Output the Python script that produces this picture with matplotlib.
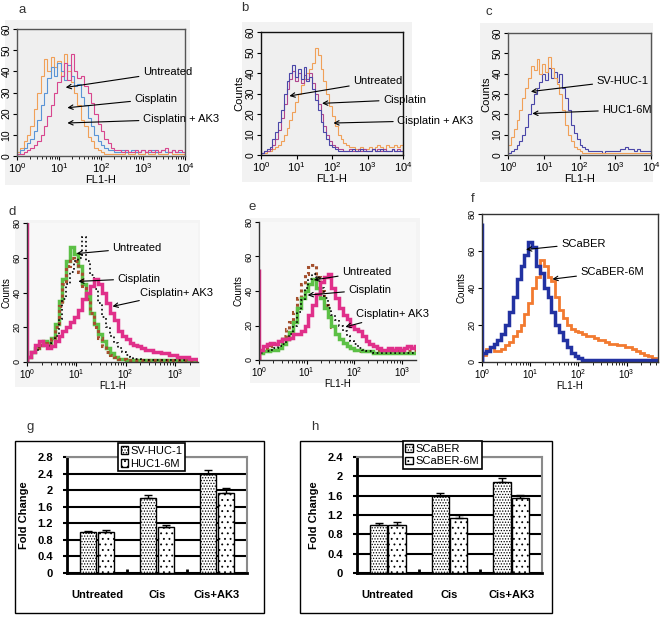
import numpy as np
import matplotlib
matplotlib.use("Agg")
import matplotlib.pyplot as plt
from matplotlib.patches import Rectangle
from matplotlib.ticker import LogFormatterSciNotation

plt.rcParams['font.family'] = ['Liberation Sans', 'DejaVu Sans']
plt.rcParams['mathtext.default'] = 'regular'
plt.rcParams['hatch.linewidth'] = 0.6

W, H = 662, 618

# --- histogram data (counts per 0.08-decade bin, starting at 10^0) ---
bin_step = 0.08

a_orange = [2, 4, 7, 10, 14, 22, 30, 38, 46, 40,
            47, 42, 45, 38, 48, 40, 35, 30, 24, 17,
            14, 9, 7, 4, 3, 2, 1, 1, 1, 1,
            1, 1, 2, 1, 1, 2, 1, 1, 2, 1,
            1, 2, 1, 1, 1, 2, 1, 1, 1, 1]
a_blue = [1, 3, 4, 6, 8, 12, 17, 24, 30, 37,
          42, 38, 44, 40, 36, 43, 38, 33, 34, 28,
          24, 18, 14, 10, 7, 5, 4, 3, 3, 2,
          2, 3, 2, 2, 3, 2, 2, 3, 2, 2,
          3, 2, 2, 3, 2, 2, 3, 2, 2, 2]
a_magenta = [1, 1, 2, 3, 4, 5, 7, 10, 14, 19,
             24, 30, 35, 38, 44, 36, 48, 40, 37, 38,
             33, 30, 25, 20, 15, 12, 8, 6, 4, 3,
             3, 2, 3, 2, 2, 3, 2, 3, 2, 3,
             2, 3, 2, 3, 4, 2, 3, 2, 3, 2]

b_blue = [1, 2, 3, 4, 8, 11, 16, 22, 30, 36,
          40, 44, 38, 42, 37, 43, 36, 38, 32, 27,
          22, 16, 11, 8, 5, 4, 3, 2, 2, 2,
          2, 2, 3, 2, 2, 3, 2, 2, 2, 3,
          2, 2, 3, 2, 2, 2, 3, 2, 2, 2]
b_magenta = [1, 2, 2, 3, 5, 8, 12, 18, 25, 32,
             37, 41, 36, 40, 35, 39, 37, 40, 35, 30,
             25, 20, 14, 10, 7, 5, 4, 3, 3, 2,
             2, 3, 2, 2, 3, 2, 3, 2, 2, 3,
             2, 3, 2, 3, 2, 2, 3, 2, 3, 2]
b_orange = [1, 1, 2, 2, 3, 4, 5, 7, 10, 13,
            17, 21, 26, 30, 34, 37, 40, 42, 45, 52,
            49, 42, 36, 30, 24, 19, 14, 10, 8, 6,
            5, 4, 4, 3, 3, 4, 3, 3, 4, 3,
            4, 5, 4, 3, 5, 4, 4, 5, 4, 5]

c_orange = [5, 9, 13, 17, 22, 28, 33, 38, 44, 42,
            47, 40, 45, 41, 48, 43, 38, 35, 30, 22,
            15, 10, 7, 4, 3, 2, 1, 1, 1, 1,
            1, 1, 1, 1, 1, 1, 1, 1, 1, 1,
            1, 1, 1, 1, 1, 1, 1, 1, 1, 1]
c_blue = [1, 2, 3, 5, 7, 10, 14, 20, 25, 30,
          33, 36, 40, 37, 43, 38, 41, 36, 40, 33,
          28, 22, 15, 11, 8, 5, 4, 3, 2, 2,
          2, 2, 2, 1, 2, 2, 2, 2, 2, 3,
          3, 4, 3, 3, 2, 3, 2, 2, 2, 2]

d_green = [3, 6, 8, 10, 12, 11, 14, 22, 35, 48,
           58, 66, 62, 55, 45, 38, 28, 22, 16, 12,
           8, 5, 3, 2, 2, 1, 1, 1, 1, 1,
           1, 1, 1, 1, 1, 1, 1, 1, 1, 1,
           1, 1, 1, 1, 1]
d_brown = [3, 6, 8, 10, 11, 10, 13, 20, 32, 45,
           55, 60, 58, 52, 44, 36, 28, 20, 14, 9,
           6, 4, 3, 2, 2, 1, 1, 1, 1, 1,
           1, 1, 1, 1, 1, 1, 1, 1, 1, 1,
           1, 1, 1, 1, 1]
d_dotted = [3, 5, 7, 9, 10, 9, 11, 15, 25, 36,
            45, 52, 58, 60, 72, 58, 50, 42, 34, 26,
            20, 15, 11, 8, 6, 4, 3, 2, 2, 1,
            1, 1, 1, 1, 1, 1, 1, 1, 1, 1,
            1, 1, 1, 1, 1]
d_magenta = [3, 6, 10, 12, 10, 8, 9, 12, 15, 18,
             20, 23, 26, 30, 36, 40, 44, 48, 45, 40,
             34, 28, 24, 18, 15, 13, 11, 10, 9, 8,
             7, 7, 6, 6, 5, 5, 4, 4, 3, 3,
             3, 2, 2, 2, 2]
d_edge = 85

e_green = [4, 5, 5, 6, 6, 7, 9, 12, 16, 22,
           30, 36, 40, 44, 47, 42, 36, 30, 25, 20,
           15, 12, 10, 8, 7, 6, 6, 5, 5, 5,
           4, 4, 4, 4, 4, 4, 4, 4, 4, 4,
           4, 4, 4, 4, 4]
e_brown = [5, 6, 7, 8, 9, 11, 14, 18, 22, 28,
           36, 44, 50, 54, 55, 48, 40, 32, 25, 19,
           15, 12, 10, 8, 7, 6, 5, 5, 5, 5,
           5, 5, 5, 5, 5, 5, 5, 5, 5, 5,
           5, 5, 5, 5, 5]
e_dotted = [4, 5, 5, 6, 7, 8, 9, 12, 15, 20,
            28, 35, 42, 47, 50, 48, 42, 36, 30, 26,
            23, 20, 17, 14, 11, 9, 7, 6, 5, 5,
            4, 4, 4, 4, 4, 4, 4, 4, 4, 4,
            4, 4, 4, 4, 4]
e_magenta = [6, 8, 9, 10, 9, 11, 12, 12, 13, 15,
             15, 17, 20, 26, 32, 38, 45, 48, 50, 42,
             36, 30, 26, 24, 20, 18, 17, 14, 11, 9,
             8, 7, 6, 6, 7, 6, 7, 6, 7, 8,
             7, 8, 7, 8, 7]
e_edge = 53

f_blue = [5, 6, 8, 10, 12, 15, 20, 27, 35, 45,
          52, 58, 65, 62, 52, 48, 40, 35, 27, 20,
          16, 12, 8, 5, 3, 2, 1, 1, 1, 1,
          1, 1, 1, 1, 1, 1, 1, 1, 1, 1,
          1, 1, 1, 1, 1]
f_orange = [4, 7, 8, 6, 6, 7, 9, 11, 14, 17,
            20, 26, 32, 40, 46, 55, 52, 46, 44, 35,
            28, 24, 20, 18, 17, 16, 15, 14, 14, 13,
            12, 12, 11, 10, 10, 9, 9, 8, 8, 7,
            6, 5, 4, 3, 2]
f_edge = 75

# --- bar chart data ---
groups = ['Untreated', 'Cis', 'Cis+AK3']
g_sv = [0.98, 1.82, 2.38]
g_sv_err = [0.04, 0.07, 0.11]
g_6m = [0.98, 1.10, 1.93]
g_6m_err = [0.06, 0.05, 0.12]
h_sc = [1.00, 1.60, 1.88]
h_sc_err = [0.04, 0.06, 0.08]
h_6m = [1.00, 1.13, 1.56]
h_6m_err = [0.06, 0.07, 0.05]

fig = plt.figure(figsize=(W / 100, H / 100), dpi=100)
fig.patch.set_facecolor('white')


def px_ax(l, t, r, b):
    return fig.add_axes([l / W, 1 - b / H, (r - l) / W, (b - t) / H])


def box(l, t, r, b, face, edge='none', lw=0):
    fig.add_artist(Rectangle((l / W, 1 - b / H), (r - l) / W, (b - t) / H,
                             transform=fig.transFigure, facecolor=face,
                             edgecolor=edge, linewidth=lw, zorder=-5))


def label(x, y, s):
    fig.text(x / W, 1 - y / H, s, fontsize=9.5, color='#333333',
             ha='center', va='center')


def hist(ax, counts, **kw):
    edges = 10 ** (np.arange(len(counts) + 1) * bin_step)
    ax.stairs(counts, edges, **kw)


def arrow(ax, text, tip, txt, fs=8):
    ax.annotate(text, xy=tip, xycoords='axes fraction', xytext=txt,
                textcoords='axes fraction', ha='left', va='center',
                fontsize=fs, annotation_clip=False,
                arrowprops=dict(arrowstyle='->', lw=0.8, color='black',
                                shrinkA=1, shrinkB=0))


def style_hist(ax, xmax, ymax, ystep, counts_label=True, spines='box',
               spine_color='#333333', face='#efefef', small=False):
    ax.set_xscale('log')
    ax.set_xlim(1, xmax)
    ax.set_ylim(0, ymax)
    ax.set_facecolor(face)
    decades = [10.0 ** k for k in range(5) if 10.0 ** k <= xmax * 1.001]
    ax.set_xticks(decades)
    ax.xaxis.set_major_formatter(LogFormatterSciNotation())
    ax.set_yticks(np.arange(0, ymax + 1, ystep))
    fs = 7 if small else 8
    ax.tick_params(axis='x', labelsize=fs, pad=1, length=3)
    ax.tick_params(axis='x', which='minor', length=2)
    ax.tick_params(axis='y', labelsize=fs - 0.5, pad=1, length=3,
                   labelrotation=90)
    for t in ax.get_yticklabels():
        t.set_va('center')
    ax.set_xlabel('FL1-H', fontsize=fs, labelpad=0)
    if counts_label:
        ax.set_ylabel('Counts', fontsize=fs, labelpad=1)
    for s in ax.spines.values():
        s.set_color(spine_color)
        s.set_linewidth(1)
    if spines == 'open':
        ax.spines['top'].set_visible(False)
        ax.spines['right'].set_visible(False)


orange = '#f0a058'
lightblue = '#5a94d6'
pink = '#d8468e'
purple = '#4a46a8'
plum = '#b0468e'

# ---------------- row 1 ----------------
box(5, 20, 190, 185, '#f2f2f2')
ax = px_ax(17, 29, 185, 156)
hist(ax, a_orange, color=orange, lw=0.8)
hist(ax, a_blue, color=lightblue, lw=0.8)
hist(ax, a_magenta, color=pink, lw=0.8)
style_hist(ax, 1e4, 60, 10, counts_label=False, spine_color='#555555')
arrow(ax, 'Untreated', (0.29, 0.54), (0.75, 0.66))
arrow(ax, 'Cisplatin', (0.30, 0.38), (0.70, 0.45))
arrow(ax, 'Cisplatin + AK3', (0.30, 0.26), (0.75, 0.29))
label(22, 10, 'a')

box(242, 22, 412, 182, '#f2f2f2')
ax = px_ax(261, 32, 403, 155)
hist(ax, b_orange, color=orange, lw=0.8)
hist(ax, b_magenta, color=plum, lw=0.8)
hist(ax, b_blue, color=purple, lw=0.8)
style_hist(ax, 1e4, 60, 10, spine_color='#111111')
arrow(ax, 'Untreated', (0.20, 0.48), (0.65, 0.60))
arrow(ax, 'Cisplatin', (0.43, 0.42), (0.86, 0.45))
arrow(ax, 'Cisplatin + AK3', (0.51, 0.26), (0.96, 0.28))
label(245, 8, 'b')

box(480, 23, 653, 182, '#f2f2f2')
ax = px_ax(508, 33, 651, 155)
hist(ax, c_blue, color=purple, lw=0.8)
hist(ax, c_orange, color=orange, lw=0.8)
style_hist(ax, 1e4, 60, 10, spine_color='#555555')
arrow(ax, 'SV-HUC-1', (0.16, 0.52), (0.62, 0.61))
arrow(ax, 'HUC1-6M', (0.17, 0.34), (0.66, 0.37))
label(489, 12, 'c')

# ---------------- row 2 ----------------
green = '#5cc046'
hotpink = '#e0308a'
brown = '#a4502e'

box(15, 220, 200, 387, '#f4f4f4')
ax = px_ax(27, 223, 198, 362)
hist(ax, d_green, color=green, lw=2.5)
hist(ax, d_brown, color=brown, lw=2.2, ls=(0, (1, 1)))
hist(ax, d_dotted, color='black', lw=1.2, ls=':')
hist(ax, d_magenta, color=hotpink, lw=2.5)
ax.vlines(1.02, 0, d_edge, color=hotpink, lw=2.5)
style_hist(ax, 10 ** 3.47, 80, 20, spines='open', face='#f8f8f8', small=True)
arrow(ax, 'Untreated', (0.29, 0.78), (0.50, 0.82))
arrow(ax, 'Cisplatin', (0.30, 0.58), (0.53, 0.60))
arrow(ax, 'Cisplatin+ AK3', (0.50, 0.40), (0.66, 0.50))
label(12, 212, 'd')

box(250, 218, 420, 383, '#f4f4f4')
ax = px_ax(259, 222, 416, 360)
hist(ax, e_brown, color=brown, lw=2.2, ls=(0, (1, 1)))
hist(ax, e_green, color=green, lw=2.5)
hist(ax, e_dotted, color='black', lw=1.2, ls=':')
hist(ax, e_magenta, color=hotpink, lw=2.5)
ax.vlines(1.02, 0, e_edge, color=hotpink, lw=2.5)
style_hist(ax, 10 ** 3.3, 80, 20, spines='open', face='#f8f8f8', small=True)
arrow(ax, 'Untreated', (0.35, 0.58), (0.53, 0.64))
arrow(ax, 'Cisplatin', (0.31, 0.47), (0.57, 0.51))
arrow(ax, 'Cisplatin+ AK3', (0.55, 0.24), (0.62, 0.33))
label(252, 207, 'e')

navy = '#2232a2'
forange = '#f27a30'
ax = px_ax(482, 214, 658, 362)
hist(ax, f_orange, color=forange, lw=2)
hist(ax, f_blue, color=navy, lw=2.5)
ax.vlines(1.02, 0, f_edge, color=navy, lw=2.5)
style_hist(ax, 10 ** 3.65, 80, 20, face='white', small=True)
arrow(ax, 'SCaBER', (0.25, 0.76), (0.45, 0.80))
arrow(ax, 'SCaBER-6M', (0.40, 0.56), (0.56, 0.61))
label(473, 199, 'f')


# ---------------- row 3: bar charts ----------------
def bar_panel(ax, v1, e1, v2, e2, names, ymax, leg_anchor):
    x = np.arange(len(groups))
    wbar = 0.28
    ax.bar(x - 0.15, v1, wbar, facecolor='white', edgecolor='black',
           lw=1, hatch='......', label=names[0], zorder=3)
    ax.bar(x + 0.15, v2, wbar, facecolor='white', edgecolor='black',
           lw=1, hatch='...', label=names[1], zorder=3)
    ax.errorbar(x - 0.15, v1, yerr=[np.zeros(3), e1], fmt='none',
                ecolor='black', elinewidth=1, capsize=3, zorder=4)
    ax.errorbar(x + 0.15, v2, yerr=[np.zeros(3), e2], fmt='none',
                ecolor='black', elinewidth=1, capsize=3, zorder=4)
    ax.set_xlim(-0.5, 2.5)
    ax.set_ylim(0, ymax)
    ticks = np.arange(0, ymax + 0.01, 0.4)
    ax.set_yticks(ticks)
    ax.set_yticklabels([f'{t:g}' for t in ticks], fontsize=8,
                       fontweight='bold')
    ax.set_xticks(x)
    ax.set_xticklabels(groups, fontsize=8, fontweight='bold')
    ax.tick_params(axis='x', length=0, pad=12)
    ax.tick_params(axis='y', length=3, width=1.5, pad=7)
    ax.set_xticks([0.5, 1.5], minor=True)
    ax.tick_params(axis='x', which='minor', length=3, width=2, direction='in')
    ax.yaxis.grid(True, color='black', lw=1.5)
    ax.set_axisbelow(True)
    for s in ['left', 'bottom']:
        ax.spines[s].set_linewidth(2)
        ax.spines[s].set_color('black')
    for s in ['top', 'right']:
        ax.spines[s].set_linewidth(1.5)
        ax.spines[s].set_color('#8a8a8a')
    ax.set_ylabel('Fold Change', fontsize=8, fontweight='bold', labelpad=6)
    leg = ax.legend(loc='upper center', bbox_to_anchor=leg_anchor,
                    fontsize=8, frameon=True, fancybox=False, framealpha=1,
                    edgecolor='black', handlelength=0.7, handleheight=0.7,
                    handletextpad=0.2, borderpad=0.25, labelspacing=0.25,
                    borderaxespad=0)
    leg.get_frame().set_linewidth(1.2)
    leg.set_zorder(10)


box(15, 441, 264, 613, 'white', edge='black', lw=1)
ax = px_ax(67, 457, 247, 573)
bar_panel(ax, g_sv, g_sv_err, g_6m, g_6m_err, ['SV-HUC-1', 'HUC1-6M'],
          2.8, (0.47, 1.12))
label(30, 427, 'g')

box(300, 441, 552, 613, 'white', edge='black', lw=1)
ax = px_ax(357, 457, 542, 573)
bar_panel(ax, h_sc, h_sc_err, h_6m, h_6m_err, ['SCaBER', 'SCaBER-6M'],
          2.4, (0.46, 1.14))
label(315, 427, 'h')

fig.savefig('out.png', dpi=100)
